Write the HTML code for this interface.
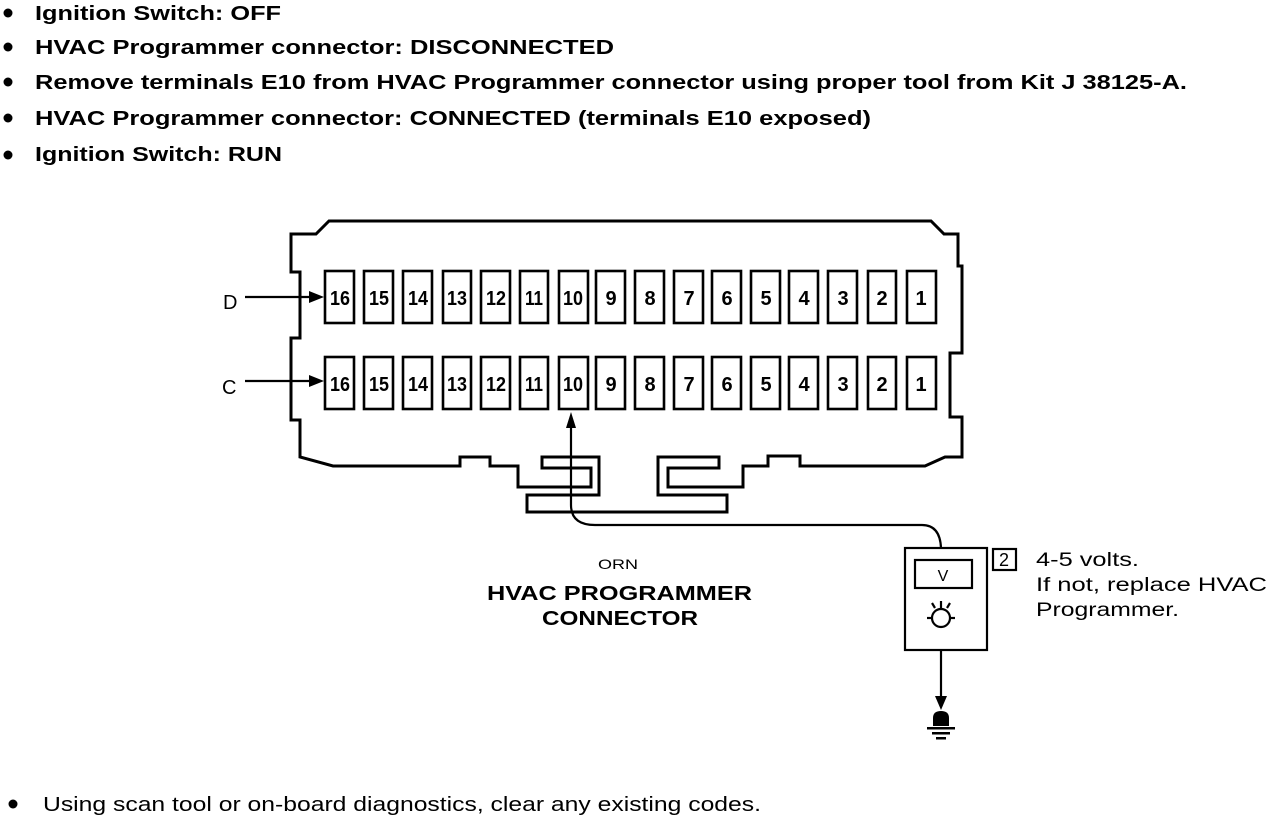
<!DOCTYPE html>
<html><head><meta charset="utf-8"><style>
html,body{margin:0;padding:0;background:#fff;}
svg{display:block;}
</style></head><body>
<svg width="1280" height="816" viewBox="0 0 1280 816" xmlns="http://www.w3.org/2000/svg" font-family="Liberation Sans, Arial, sans-serif">
<g fill="#000">
<circle cx="8" cy="13" r="4.5"/><circle cx="8" cy="47" r="4.5"/><circle cx="8" cy="82" r="4.5"/><circle cx="8" cy="118" r="4.5"/><circle cx="8" cy="155" r="4.5"/>
<circle cx="13" cy="804" r="4.5"/>
</g>
<g font-weight="bold" font-size="20" fill="#000">
<text x="35" y="20" textLength="246" lengthAdjust="spacingAndGlyphs">Ignition Switch: OFF</text>
<text x="35" y="54" textLength="579" lengthAdjust="spacingAndGlyphs">HVAC Programmer connector: DISCONNECTED</text>
<text x="35" y="89" textLength="1152" lengthAdjust="spacingAndGlyphs">Remove terminals E10 from HVAC Programmer connector using proper tool from Kit J 38125-A.</text>
<text x="35" y="125" textLength="836" lengthAdjust="spacingAndGlyphs">HVAC Programmer connector: CONNECTED (terminals E10 exposed)</text>
<text x="35" y="161" textLength="247" lengthAdjust="spacingAndGlyphs">Ignition Switch: RUN</text>
</g>
<text x="43" y="811" font-size="20" textLength="718" lengthAdjust="spacingAndGlyphs">Using scan tool or on-board diagnostics, clear any existing codes.</text>

<g fill="none" stroke="#000" stroke-width="3" stroke-linejoin="miter">
<path d="M291 234 L316 234 L329 221 L931 221 L944 234 L958 234 L958 266 L962 266 L962 353 L950 353 L950 417 L962 417 L962 457 L945 457 L925 466 L800 466 L800 456 L768 456 L768 466 L743 466 L743 487 L668 487 L668 468 L719 468 L719 457 L658 457 L658 495 L727 495 L727 512 L527 512 L527 495 L599 495 L599 457 L542 457 L542 468 L591 468 L591 487 L518 487 L518 466 L490 466 L490 457 L460 457 L460 466 L333 466 L300 457 L300 420 L291 420 L291 338 L300 338 L300 272 L291 272 Z"/>
</g>
<g fill="#fff" stroke="#000" stroke-width="2.6">
<rect x="325" y="271" width="29" height="52"/><rect x="364" y="271" width="29" height="52"/><rect x="403" y="271" width="29" height="52"/><rect x="443" y="271" width="28" height="52"/><rect x="481" y="271" width="29" height="52"/><rect x="520" y="271" width="28" height="52"/><rect x="559" y="271" width="29" height="52"/><rect x="596" y="271" width="29" height="52"/><rect x="635" y="271" width="29" height="52"/><rect x="674" y="271" width="29" height="52"/><rect x="712" y="271" width="29" height="52"/><rect x="751" y="271" width="29" height="52"/><rect x="789" y="271" width="29" height="52"/><rect x="828" y="271" width="29" height="52"/><rect x="868" y="271" width="28" height="52"/><rect x="907" y="271" width="29" height="52"/>
<rect x="325" y="357" width="29" height="52"/><rect x="364" y="357" width="29" height="52"/><rect x="403" y="357" width="29" height="52"/><rect x="443" y="357" width="28" height="52"/><rect x="481" y="357" width="29" height="52"/><rect x="520" y="357" width="28" height="52"/><rect x="559" y="357" width="29" height="52"/><rect x="596" y="357" width="29" height="52"/><rect x="635" y="357" width="29" height="52"/><rect x="674" y="357" width="29" height="52"/><rect x="712" y="357" width="29" height="52"/><rect x="751" y="357" width="29" height="52"/><rect x="789" y="357" width="29" height="52"/><rect x="828" y="357" width="29" height="52"/><rect x="868" y="357" width="28" height="52"/><rect x="907" y="357" width="29" height="52"/>
</g>
<g font-size="20" font-weight="bold" text-anchor="middle" fill="#000">
<text x="340" y="305" textLength="20" lengthAdjust="spacingAndGlyphs">16</text><text x="379" y="305" textLength="20" lengthAdjust="spacingAndGlyphs">15</text><text x="418" y="305" textLength="20" lengthAdjust="spacingAndGlyphs">14</text><text x="457" y="305" textLength="20" lengthAdjust="spacingAndGlyphs">13</text><text x="496" y="305" textLength="20" lengthAdjust="spacingAndGlyphs">12</text><text x="534" y="305" textLength="18" lengthAdjust="spacingAndGlyphs">11</text><text x="573" y="305" textLength="20" lengthAdjust="spacingAndGlyphs">10</text><text x="611" y="305">9</text><text x="650" y="305">8</text><text x="689" y="305">7</text><text x="727" y="305">6</text><text x="766" y="305">5</text><text x="804" y="305">4</text><text x="843" y="305">3</text><text x="882" y="305">2</text><text x="921" y="305">1</text>
<text x="340" y="391" textLength="20" lengthAdjust="spacingAndGlyphs">16</text><text x="379" y="391" textLength="20" lengthAdjust="spacingAndGlyphs">15</text><text x="418" y="391" textLength="20" lengthAdjust="spacingAndGlyphs">14</text><text x="457" y="391" textLength="20" lengthAdjust="spacingAndGlyphs">13</text><text x="496" y="391" textLength="20" lengthAdjust="spacingAndGlyphs">12</text><text x="534" y="391" textLength="18" lengthAdjust="spacingAndGlyphs">11</text><text x="573" y="391" textLength="20" lengthAdjust="spacingAndGlyphs">10</text><text x="611" y="391">9</text><text x="650" y="391">8</text><text x="689" y="391">7</text><text x="727" y="391">6</text><text x="766" y="391">5</text><text x="804" y="391">4</text><text x="843" y="391">3</text><text x="882" y="391">2</text><text x="921" y="391">1</text>
</g>
<text x="223" y="309" font-size="20">D</text>
<text x="222" y="394" font-size="20">C</text>
<g stroke="#000" stroke-width="2.2" fill="none">
<line x1="245" y1="297" x2="312" y2="297"/>
<line x1="245" y1="381" x2="312" y2="381"/>
<path d="M571 425 L571 505 Q571 525 595 525 L922 525 Q940 525 941 548"/>
<rect x="905" y="548" width="82" height="102"/>
<rect x="915" y="560" width="57" height="28"/>
<circle cx="941" cy="618" r="9"/>
<line x1="927" y1="618" x2="932" y2="618"/><line x1="950" y1="618" x2="955" y2="618"/>
<line x1="932" y1="603" x2="935" y2="608"/><line x1="950" y1="603" x2="947" y2="608"/><line x1="941" y1="601" x2="941" y2="609"/>
<line x1="941" y1="650" x2="941" y2="700"/>
<rect x="993" y="549" width="23" height="21"/>
</g>
<g fill="#000">
<polygon points="324,297 309,291 309,303"/>
<polygon points="324,381 309,375 309,387"/>
<polygon points="571,412 566,428 576,428"/>
<polygon points="941,710 935,696 947,696"/>
<path d="M933 726 L933 718 Q933 711 941 711 Q949 711 949 718 L949 726 Z"/>
<rect x="927" y="727" width="28" height="2.5"/>
<rect x="932" y="732" width="18" height="2.5"/>
<rect x="936" y="737" width="10" height="2.5"/>
</g>
<text x="943" y="581" font-size="16" text-anchor="middle">V</text>
<text x="1004" y="566" font-size="18" text-anchor="middle">2</text>
<g font-size="19" fill="#000">
<text x="1036" y="566" textLength="103" lengthAdjust="spacingAndGlyphs">4-5 volts.</text>
<text x="1036" y="591" textLength="231" lengthAdjust="spacingAndGlyphs">If not, replace HVAC</text>
<text x="1036" y="616" textLength="143" lengthAdjust="spacingAndGlyphs">Programmer.</text>
</g>
<text x="598" y="569" font-size="14" textLength="40" lengthAdjust="spacingAndGlyphs">ORN</text>
<g font-size="20" font-weight="bold">
<text x="487" y="600" textLength="265" lengthAdjust="spacingAndGlyphs">HVAC PROGRAMMER</text>
<text x="542" y="625" textLength="156" lengthAdjust="spacingAndGlyphs">CONNECTOR</text>
</g>
</svg>
</body></html>
